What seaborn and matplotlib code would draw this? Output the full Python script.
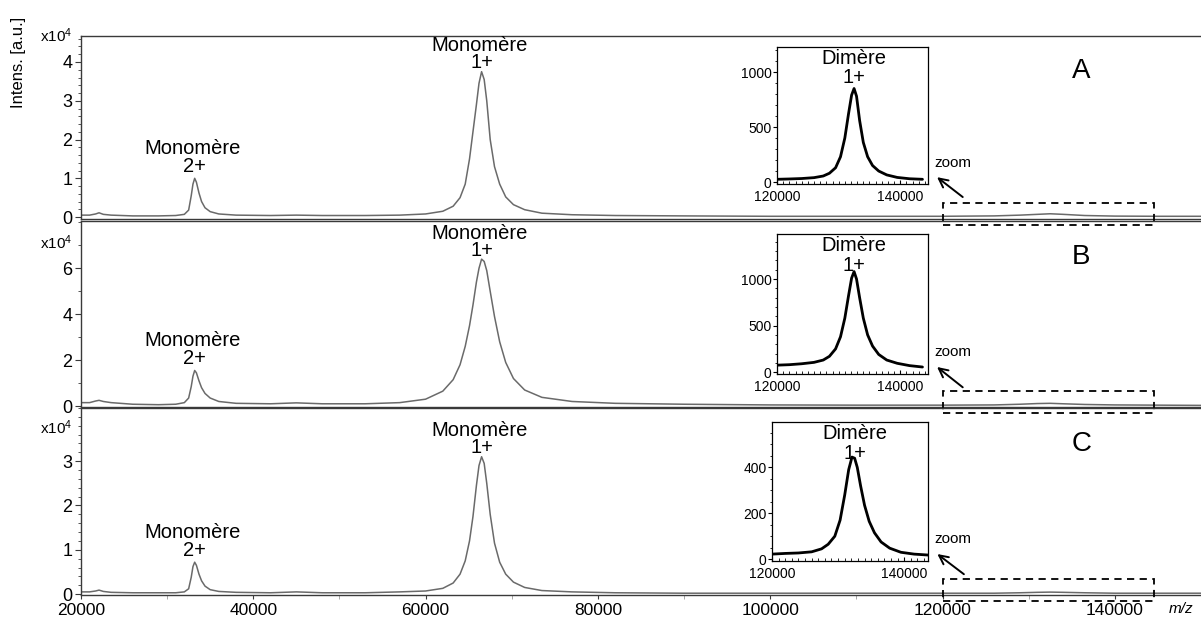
"""MALDI spectra (A, B, C) with dimer zoom insets."""

import numpy as np
import pandas as pd
import matplotlib
matplotlib.use("Agg")
import matplotlib.pyplot as plt
import matplotlib.transforms as mtransforms
from matplotlib.patches import Rectangle
from matplotlib.ticker import MultipleLocator
import seaborn as sns

# ── data ─────────────────────────────────────────────────────────────────────

PANELS = ["A", "B", "C"]

# main spectra, intensity in units of 1e4
MZ = [20000, 21000, 21700, 22100, 22600, 23500, 26000, 29000, 31000, 32000,
      32500, 32800, 33000, 33200, 33400, 33700, 34000, 34400, 35000, 36000,
      38000, 42000, 45000, 48000, 53000, 57000, 60000, 62000, 63200, 64000,
      64600, 65100, 65500, 65900, 66200, 66500, 66800, 67100, 67500, 68000,
      68600, 69300, 70200, 71500, 73500, 77000, 82000, 90000, 100000, 110000,
      120000, 126000, 129000, 131000, 132500, 134000, 136500, 140000, 145000, 150000]

INT_A = [0.05, 0.05, 0.08, 0.11, 0.07, 0.05, 0.03, 0.03, 0.04, 0.07,
         0.18, 0.55, 0.85, 1.00, 0.90, 0.62, 0.40, 0.24, 0.14, 0.08,
         0.05, 0.04, 0.05, 0.04, 0.04, 0.05, 0.08, 0.15, 0.28, 0.50,
         0.85, 1.50, 2.20, 2.90, 3.45, 3.75, 3.55, 3.00, 2.00, 1.30,
         0.85, 0.52, 0.32, 0.19, 0.10, 0.06, 0.04, 0.03, 0.02, 0.02,
         0.02, 0.03, 0.05, 0.07, 0.085, 0.07, 0.04, 0.025, 0.02, 0.02]

INT_B = [0.15, 0.15, 0.22, 0.25, 0.20, 0.15, 0.08, 0.06, 0.08, 0.15,
         0.35, 0.85, 1.30, 1.55, 1.45, 1.10, 0.80, 0.55, 0.35, 0.20,
         0.12, 0.10, 0.14, 0.10, 0.10, 0.15, 0.30, 0.65, 1.15, 1.80,
         2.60, 3.50, 4.40, 5.40, 6.00, 6.40, 6.30, 5.90, 5.00, 3.90,
         2.80, 1.90, 1.20, 0.70, 0.38, 0.20, 0.12, 0.08, 0.05, 0.04,
         0.04, 0.05, 0.08, 0.11, 0.12, 0.10, 0.07, 0.05, 0.04, 0.03]

INT_C = [0.05, 0.05, 0.07, 0.09, 0.06, 0.04, 0.03, 0.03, 0.03, 0.05,
         0.12, 0.38, 0.62, 0.72, 0.65, 0.45, 0.30, 0.18, 0.10, 0.06,
         0.04, 0.03, 0.05, 0.03, 0.03, 0.05, 0.07, 0.13, 0.25, 0.45,
         0.75, 1.20, 1.75, 2.45, 2.90, 3.10, 2.95, 2.50, 1.80, 1.15,
         0.72, 0.45, 0.27, 0.15, 0.08, 0.05, 0.03, 0.02, 0.02, 0.02,
         0.02, 0.02, 0.03, 0.04, 0.045, 0.04, 0.03, 0.02, 0.02, 0.02]

# dimer insets, raw counts
DIMER_MZ = [120000, 122000, 124000, 126000, 127500, 128500, 129500, 130300,
            131000, 131600, 132100, 132500, 132900, 133400, 134000, 134700,
            135500, 136500, 137800, 139500, 141500, 143600]
DIMER_A = [25, 28, 32, 40, 55, 80, 130, 230, 400, 620, 790, 850, 780, 560,
           360, 230, 150, 100, 65, 42, 30, 25]
DIMER_B = [75, 80, 90, 105, 130, 170, 250, 380, 580, 820, 1010, 1080, 1000,
           800, 580, 400, 280, 190, 130, 95, 70, 55]
DIMER_C = [22, 25, 27, 32, 45, 65, 100, 170, 280, 390, 445, 440, 400, 320,
           235, 165, 115, 75, 48, 30, 22, 18]

MONO_1_MZ = 66500
MONO_2_MZ = 33200
DIMER_PEAK_MZ = 132500
ZOOM_RANGE = (120000, 144500)

Y_TICKS = {"A": [0, 1, 2, 3, 4], "B": [0, 2, 4, 6], "C": [0, 1, 2, 3]}
INSET_Y_TICKS = {"A": [0, 500, 1000], "B": [0, 500, 1000], "C": [0, 200, 400]}

# ── style ────────────────────────────────────────────────────────────────────

sns.set_style("ticks")
plt.rcParams["font.family"] = ["Liberation Sans", "DejaVu Sans"]
plt.rcParams["mathtext.fontset"] = "custom"
plt.rcParams["mathtext.rm"] = "Liberation Sans"
plt.rcParams["mathtext.it"] = "Liberation Sans:italic"
for key in ["text.color", "axes.labelcolor", "xtick.color", "ytick.color"]:
    plt.rcParams[key] = "black"

TRACE = "#6a6a6a"
SPINE = "#3a3a3a"

spectra = pd.DataFrame({"mz": MZ, "A": INT_A, "B": INT_B, "C": INT_C})
dimers = pd.DataFrame({"mz": DIMER_MZ, "A": DIMER_A, "B": DIMER_B, "C": DIMER_C})

# axes boxes in figure fraction [left, bottom, width, height]
MAIN_BOX = {"A": [0.0674, 0.6462, 0.9326, 0.2956],
            "B": [0.0674, 0.3425, 0.9326, 0.2997],
            "C": [0.0674, 0.0388, 0.9326, 0.3021]}
INSET_BOX = {"A": [0.647, 0.7027, 0.1257, 0.2213],
             "B": [0.647, 0.3958, 0.1257, 0.2262],
             "C": [0.6428, 0.0937, 0.1299, 0.2246]}
YLIM = {"A": (-0.05, 4.67), "B": (-0.04, 8.04), "C": (-0.02, 4.2)}
YMINOR = {"A": 0.2, "B": 1, "C": 0.2}
EXP_DROP = {"A": 0, "B": 21, "C": 20}   # px below the top for the x10^4 label
INSET_YLIM = {"A": (-18, 1227), "B": (-20, 1484), "C": (-8, 598)}
INSET_YMINOR = {"A": 100, "B": 100, "C": 50}
INSET_XLIM = {"A": (120000, 144500), "B": (120000, 144500), "C": (120000, 143600)}

fig = plt.figure(figsize=(12.01, 6.19), dpi=100)

for p in PANELS:
    ax = fig.add_axes(MAIN_BOX[p])
    sns.lineplot(data=spectra, x="mz", y=p, ax=ax, color=TRACE, lw=1.1)
    ax.set_xlim(20000, 150000)
    ax.set_ylim(*YLIM[p])
    ax.set(xlabel="", ylabel="")
    ax.set_yticks(Y_TICKS[p])
    ax.yaxis.set_minor_locator(MultipleLocator(YMINOR[p]))
    ax.tick_params(axis="y", which="major", length=4, width=0.8, color=SPINE,
                   labelsize=13, pad=2)
    ax.tick_params(axis="y", which="minor", length=2, width=0.6, color=SPINE)
    for side in ["left", "bottom", "top"]:
        ax.spines[side].set_color(SPINE)
        ax.spines[side].set_linewidth(1.0)
    ax.spines["right"].set_visible(False)
    if p == "C":
        ax.xaxis.set_major_locator(MultipleLocator(20000))
        ax.xaxis.set_minor_locator(MultipleLocator(10000))
        ax.tick_params(axis="x", which="major", length=3, color=SPINE,
                       labelsize=12.5, pad=2.5)
        ax.tick_params(axis="x", which="minor", length=3, color="#999999")
        ax.text(0.993, -0.04, "m/z", transform=ax.transAxes, ha="right",
                va="top", fontsize=11, style="italic")
    else:
        ax.set_xticks([])
    ax.patch.set_alpha(0)

    ax_h_px = MAIN_BOX[p][3] * 619
    ax.text(-0.0075, 1.0 - EXP_DROP[p] / ax_h_px, r"x10$^4$",
            transform=ax.transAxes, ha="right", va="center", fontsize=11)
    ax.text(0.893, 0.81, p, transform=ax.transAxes, ha="center", va="center",
            fontsize=20)

    # peak labels
    for mz, charge, off in [(MONO_1_MZ, "1+", (9, 26)), (MONO_2_MZ, "2+", (12, 30))]:
        h = spectra.loc[spectra["mz"] == mz, p].iloc[0]
        ax.annotate(charge, xy=(mz, h), xytext=(0, off[0]), textcoords="offset pixels",
                    ha="center", va="center", fontsize=14.5)
        ax.annotate("Monomère", xy=(mz, h), xytext=(-2, off[1]),
                    textcoords="offset pixels", ha="center", va="center",
                    fontsize=14.5)

    # dashed zoom window
    trans = mtransforms.blended_transform_factory(ax.transData, ax.transAxes)
    ax.add_patch(Rectangle((ZOOM_RANGE[0], -6 / ax_h_px), ZOOM_RANGE[1] - ZOOM_RANGE[0],
                           22 / ax_h_px, transform=trans, fill=False, ls=(0, (4, 3)),
                           lw=1.3, edgecolor="black", clip_on=False, zorder=5))

    # inset with the dimer
    ins = fig.add_axes(INSET_BOX[p])
    sns.lineplot(data=dimers, x="mz", y=p, ax=ins, color="black", lw=2.0)
    ins.set_xlim(*INSET_XLIM[p])
    ins.set_ylim(*INSET_YLIM[p])
    ins.set(xlabel="", ylabel="")
    ins.set_xticks([120000, 140000])
    ins.xaxis.set_minor_locator(MultipleLocator(1000))
    ins.set_yticks(INSET_Y_TICKS[p])
    ins.yaxis.set_minor_locator(MultipleLocator(INSET_YMINOR[p]))
    ins.tick_params(axis="x", which="major", direction="in", length=3,
                    labelsize=10, pad=4)
    ins.tick_params(axis="x", which="minor", direction="in", length=2)
    ins.tick_params(axis="y", which="major", length=3, labelsize=10, pad=1)
    ins.tick_params(axis="y", which="minor", length=1.5)
    for side in ins.spines:
        ins.spines[side].set_color("black")
        ins.spines[side].set_linewidth(0.9)
    itrans = mtransforms.blended_transform_factory(ins.transData, ins.transAxes)
    ins.text(DIMER_PEAK_MZ, 0.915, "Dimère", transform=itrans, ha="center",
             va="center", fontsize=14.5)
    ins.text(DIMER_PEAK_MZ, 0.775, "1+", transform=itrans, ha="center",
             va="center", fontsize=14.5)
    ins.text(1.04, 0.155, "zoom", transform=ins.transAxes, ha="left",
             va="center", fontsize=11)
    ins.annotate("", xy=(1.06, 0.05), xycoords="axes fraction",
                 xytext=(1.23, -0.095), textcoords="axes fraction",
                 arrowprops=dict(arrowstyle="->", lw=1.4, color="black",
                                 mutation_scale=16, shrinkA=0, shrinkB=0))

fig.text(19 / 1201, 1 - 62 / 619, "Intens. [a.u.]", rotation=90, ha="center",
         va="center", fontsize=12)

fig.savefig("out.png", dpi=100)
